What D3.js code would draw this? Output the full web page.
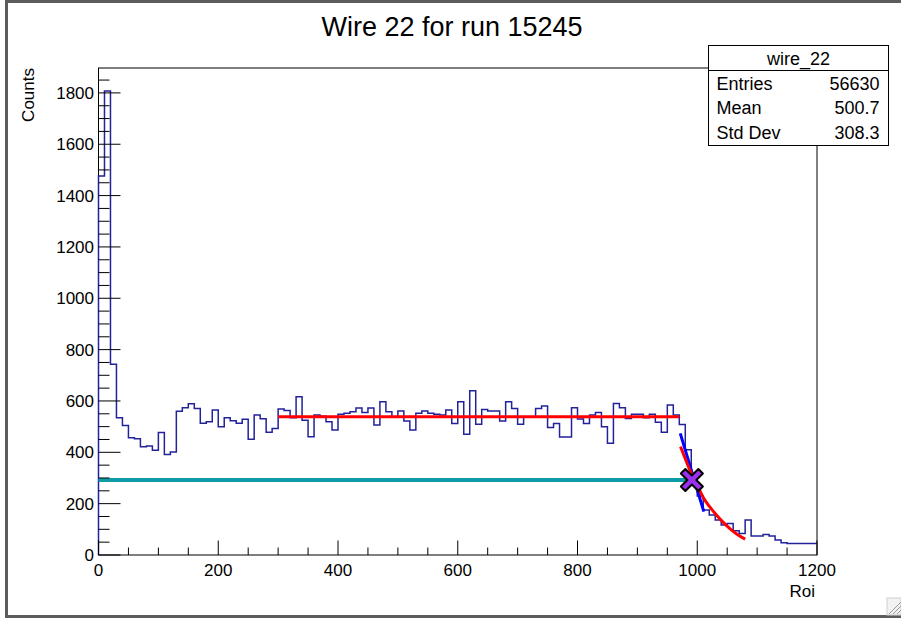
<!DOCTYPE html>
<html>
<head>
<meta charset="utf-8">
<script src="https://cdn.jsdelivr.net/npm/d3@7"></script>
<style>
  html, body { margin: 0; padding: 0; background: #ffffff; }
  svg text { font-family: "Liberation Sans", Arial, Helvetica, sans-serif; fill: #000; }
</style>
</head>
<body>
<svg id="chart" width="901" height="619"></svg>
<script>
// Histogram of wire 22, bins of width 10 over [0, 1200]
const binWidth = 10;
const binLow = 0;
const counts = [
  1476, 1807, 743, 535, 504, 457, 453, 422, 425, 408,
  477, 391, 401, 560, 574, 589, 571, 513, 519, 565,
  500, 535, 523, 513, 529, 451, 545, 531, 478, 493,
  569, 563, 535, 616, 525, 461, 545, 540, 519, 487,
  548, 552, 558, 573, 555, 573, 506, 597, 558, 539,
  561, 522, 487, 552, 561, 552, 548, 545, 565, 512,
  597, 470, 640, 509, 567, 561, 561, 522, 597, 571,
  509, 539, 539, 571, 580, 497, 512, 460, 460, 574,
  530, 512, 545, 555, 500, 435, 590, 574, 532, 548,
  548, 535, 548, 517, 478, 584, 545, 508, 410, 310,
  230, 175, 156, 136, 117, 123, 94, 84, 136, 74,
  74, 80, 74, 58, 48, 45, 45, 45, 45, 45
];

// Fitted pieces overlaid on the histogram
const plateauFit = [[300, 539], [970, 539]];          // flat fit of the plateau
const edgeLineFit = [[971.6, 474], [1011, 169]];      // linear fit of the falling edge
const tailExpFit = [[972, 422], [980, 375], [990, 318], [1000, 272], [1010, 224],
                    [1020, 190], [1032, 156], [1043, 128], [1054, 104], [1067, 80], [1080, 62]];
const halfLevel = [[0, 292], [991, 292]];             // half-height level
const edgePoint = [991, 292];                         // edge position

// Statistics box
const statsTitle = "wire_22";
const statsLabels = ["Entries", "Mean", "Std Dev"];
const statsValues = ["56630", "500.7", "308.3"];

const titleText = "Wire 22 for run 15245";
const xTitle = "Roi";
const yTitle = "Counts";
const xTickValues = [0, 200, 400, 600, 800, 1000, 1200];
const yTickValues = [0, 200, 400, 600, 800, 1000, 1200, 1400, 1600, 1800];

const svg = d3.select("#chart");
const plot = { left: 98.5, right: 817, top: 68, bottom: 555 };

// Canvas border
svg.append("rect")
  .attr("x", 6.5).attr("y", 1.5)
  .attr("width", 1000).attr("height", 615)
  .attr("fill", "#fff").attr("stroke", "#5c5c5c").attr("stroke-width", 3);

// Window resize grip in the lower right corner
const grip = svg.append("g").attr("transform", "translate(887,598)");
grip.append("rect").attr("width", 14).attr("height", 17)
  .attr("fill", "#f2f2f2").attr("stroke", "#cfcfcf");
[4, 8, 12].forEach(o => {
  grip.append("line").attr("x1", 14 - o).attr("y1", 16).attr("x2", 14).attr("y2", 16 - o)
    .attr("stroke", "#9a9a9a").attr("stroke-width", 1);
});

const x = d3.scaleLinear().domain([0, 1200]).range([plot.left, plot.right]);
const y = d3.scaleLinear().domain([0, 1897]).range([plot.bottom, plot.top]);

// Frame
svg.append("rect")
  .attr("x", plot.left).attr("y", plot.top)
  .attr("width", plot.right - plot.left).attr("height", plot.bottom - plot.top)
  .attr("fill", "none").attr("stroke", "#000").attr("stroke-width", 1);

// Histogram outline as a step path
const histPts = [];
histPts.push([binLow, 0]);
counts.forEach((c, i) => {
  const lo = binLow + i * binWidth, hi = lo + binWidth;
  histPts.push([lo, c]);
  histPts.push([hi, c]);
});
const histLine = d3.line().x(d => x(d[0])).y(d => y(d[1]));
svg.append("path")
  .attr("d", histLine(histPts))
  .attr("fill", "none").attr("stroke", "#22229a").attr("stroke-width", 1.5);

// Overlays
const fitLine = d3.line().x(d => x(d[0])).y(d => y(d[1]));
svg.append("path").attr("d", fitLine(halfLevel))
  .attr("fill", "none").attr("stroke", "#0f9aa8").attr("stroke-width", 4);
svg.append("path").attr("d", fitLine(plateauFit))
  .attr("fill", "none").attr("stroke", "#ff0000").attr("stroke-width", 3);
svg.append("path").attr("d", fitLine(edgeLineFit))
  .attr("fill", "none").attr("stroke", "#0000ff").attr("stroke-width", 3);
svg.append("path").attr("d", d3.line().curve(d3.curveMonotoneX).x(d => x(d[0])).y(d => y(d[1]))(tailExpFit))
  .attr("fill", "none").attr("stroke", "#ff0000").attr("stroke-width", 3);

// Cross marker at the edge position
const crossPath = (() => {
  const a = 4.5, b = 11; // arm half-width, arm reach
  const pts = [[0, -a], [b - a, -b], [b, -b + a], [a, 0], [b, b - a], [b - a, b], [0, a],
               [-(b - a), b], [-b, b - a], [-a, 0], [-b, -(b - a)], [-(b - a), -b]];
  return "M" + pts.map(p => p.join(",")).join("L") + "Z";
})();
svg.append("path")
  .attr("d", crossPath)
  .attr("transform", `translate(${x(edgePoint[0])},${y(edgePoint[1])})`)
  .attr("fill", "#9b30f0").attr("stroke", "#000").attr("stroke-width", 2).attr("stroke-linejoin", "round");

// Axes
const yMinor = d3.range(0, 1851, 50);
const xMinor = d3.range(0, 1201, 50);
const gy = svg.append("g");
gy.selectAll("line").data(yMinor).join("line")
  .attr("x1", plot.left).attr("x2", d => plot.left + (d % 200 === 0 ? 22 : 11))
  .attr("y1", d => y(d)).attr("y2", d => y(d))
  .attr("stroke", "#000").attr("stroke-width", 1);
gy.selectAll("text").data(yTickValues).join("text")
  .attr("x", 94).attr("y", d => y(d) + 6)
  .attr("text-anchor", "end").attr("font-size", 17)
  .text(d => d);

const gx = svg.append("g");
gx.selectAll("line").data(xMinor).join("line")
  .attr("y1", plot.bottom).attr("y2", d => plot.bottom - (d % 200 === 0 ? 14.5 : 7.5))
  .attr("x1", d => x(d)).attr("x2", d => x(d))
  .attr("stroke", "#000").attr("stroke-width", 1);
gx.selectAll("text").data(xTickValues).join("text")
  .attr("x", d => x(d)).attr("y", 576)
  .attr("text-anchor", "middle").attr("font-size", 17)
  .text(d => d);

// Axis titles
svg.append("text").attr("x", plot.right - 2).attr("y", 597)
  .attr("text-anchor", "end").attr("font-size", 17).text(xTitle);
svg.append("text").attr("transform", `translate(34,${plot.top}) rotate(-90)`)
  .attr("text-anchor", "end").attr("font-size", 17).text(yTitle);

// Title
svg.append("text").attr("x", 452).attr("y", 36)
  .attr("text-anchor", "middle").attr("font-size", 27).text(titleText);

// Statistics box
const sb = { x: 708.5, y: 45.5, w: 180, h: 100, head: 25 };
const gs = svg.append("g");
gs.append("rect").attr("x", sb.x).attr("y", sb.y).attr("width", sb.w).attr("height", sb.h)
  .attr("fill", "#fff").attr("stroke", "#000").attr("stroke-width", 1);
gs.append("line").attr("x1", sb.x).attr("x2", sb.x + sb.w)
  .attr("y1", sb.y + sb.head).attr("y2", sb.y + sb.head).attr("stroke", "#000");
gs.append("text").attr("x", sb.x + sb.w / 2).attr("y", sb.y + 19)
  .attr("text-anchor", "middle").attr("font-size", 18).text(statsTitle);
statsLabels.forEach((lab, i) => {
  const yy = sb.y + sb.head + 19 + i * 24.5;
  gs.append("text").attr("x", sb.x + 8).attr("y", yy).attr("font-size", 18).text(lab);
  gs.append("text").attr("x", sb.x + sb.w - 9).attr("y", yy)
    .attr("text-anchor", "end").attr("font-size", 18).text(statsValues[i]);
});
</script>
</body>
</html>
